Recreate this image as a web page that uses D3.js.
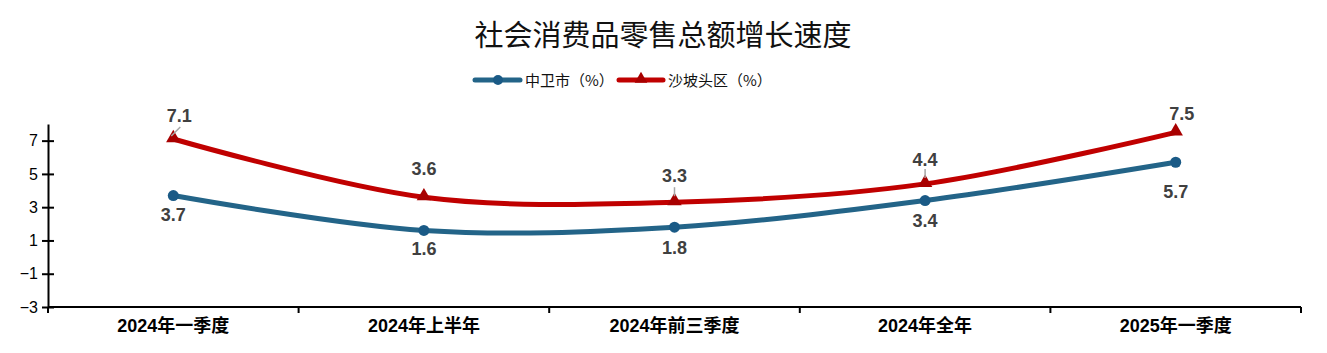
<!DOCTYPE html>
<html><head><meta charset="utf-8">
<script src="https://cdn.jsdelivr.net/npm/d3@7"></script>
<style>body{margin:0;background:#fff}svg{display:block}</style>
</head><body>
<svg id="c" width="1327" height="353"></svg>
<script>
const categories = ["2024年一季度","2024年上半年","2024年前三季度","2024年全年","2025年一季度"];
const zhongwei = [3.7, 1.6, 1.8, 3.4, 5.7];
const shapotou = [7.1, 3.6, 3.3, 4.4, 7.5];
const yTicks = [7, 5, 3, 1, -1, -3];
const seriesNames = ["中卫市（%）", "沙坡头区（%）"];
const titleText = "社会消费品零售总额增长速度";

// layout constants (label placement, px)
const redLabelDy = [-23, -29, -27, -24, -19];
const redLabelDx = [6, 0, 0, 0, 6];
const blueLabelDy = [19, 18, 20, 20, 29];

const svg = d3.select("#c");
const W = 1327, H = 353;
const m = {left: 48, right: 26, top: 124, bottom: 46};
const x = d3.scaleBand().domain(categories).range([m.left, W - m.right]);
const y = d3.scaleLinear().domain([-3, 8]).range([H - m.bottom, m.top]);
const cjk = "'Liberation Sans Narrow', 'Liberation Sans', 'Noto Sans CJK SC', sans-serif";

svg.append("text").attr("x", 663).attr("y", 46).attr("text-anchor", "middle")
  .attr("font-family", "'Noto Sans CJK SC', sans-serif").attr("font-size", 29).attr("fill", "#111")
  .text(titleText);

// y axis
const yAxis = d3.axisLeft(y).tickValues(yTicks).tickSize(0).tickFormat(d => d < 0 ? "\u2212" + Math.abs(d) : d);
const gy = svg.append("g").attr("transform", `translate(${m.left},0)`).call(yAxis);
gy.select(".domain").attr("stroke", "#000").attr("stroke-width", 2);
gy.selectAll(".tick line").remove();
gy.selectAll(".tick").append("line").attr("x1", -6).attr("x2", 6).attr("stroke", "#000").attr("stroke-width", 2);
gy.selectAll(".tick text").attr("x", -10).attr("font-family", "'Liberation Sans', sans-serif").attr("font-size", 16).attr("fill", "#000");

// x axis
const gx = svg.append("g").attr("transform", `translate(0,${H - m.bottom})`);
gx.append("line").attr("x1", m.left).attr("x2", W - m.right).attr("stroke", "#000").attr("stroke-width", 2);
const bounds = categories.map(c => x(c)).concat([W - m.right]);
gx.selectAll("line.t").data(bounds).join("line").attr("class","t")
  .attr("x1", d => d).attr("x2", d => d).attr("y1", 0).attr("y2", 6).attr("stroke", "#000").attr("stroke-width", 2);
gx.selectAll("text").data(categories).join("text")
  .attr("x", d => x(d) + x.bandwidth()/2).attr("y", 332).attr("transform", `translate(0,${-(H - m.bottom)})`)
  .attr("text-anchor", "middle")
  .attr("font-family", cjk).attr("font-size", 18).attr("font-weight", "bold").attr("fill", "#000")
  .text(d => d);

const cx = c => x(c) + x.bandwidth()/2;
const line = d3.line().x((d,i) => cx(categories[i])).y(d => y(d)).curve(d3.curveCatmullRom.alpha(0));

const blue = "#236488", blueM = "#1a5a86", red = "#C00000", redM = "#a80000";

svg.append("path").attr("d", line(zhongwei)).attr("fill", "none").attr("stroke", blue).attr("stroke-width", 5).attr("stroke-linecap", "round");
svg.append("path").attr("d", line(shapotou)).attr("fill", "none").attr("stroke", red).attr("stroke-width", 5).attr("stroke-linecap", "round");

svg.selectAll("circle.b").data(zhongwei).join("circle").attr("class","b")
  .attr("cx", (d,i) => cx(categories[i])).attr("cy", d => y(d)).attr("r", 5.5).attr("fill", blueM);
const tri = d3.symbol().type(d3.symbolTriangle).size(90);
svg.selectAll("path.r").data(shapotou).join("path").attr("class","r")
  .attr("transform", (d,i) => `translate(${cx(categories[i])},${y(d)-1})`).attr("d", tri).attr("fill", redM);

// leader lines
[0, 2, 3].forEach(i => {
  const px = cx(categories[i]), py = y(shapotou[i]);
  if (i === 0) svg.append("line").attr("x1", px-2).attr("y1", py-3).attr("x2", px+7).attr("y2", py-12).attr("stroke", "#a6a6a6").attr("stroke-width", 1.5);
  else svg.append("line").attr("x1", px).attr("y1", py-6).attr("x2", px).attr("y2", py-15).attr("stroke", "#a6a6a6").attr("stroke-width", 1.5);
});

const lblFont = "'Liberation Sans', sans-serif";
svg.selectAll("text.rl").data(shapotou).join("text").attr("class","rl")
  .attr("x", (d,i) => cx(categories[i]) + redLabelDx[i]).attr("y", (d,i) => y(d) + redLabelDy[i] + 6.5)
  .attr("text-anchor", "middle").attr("font-family", lblFont).attr("font-weight", "bold").attr("font-size", 18).attr("fill", "#404040")
  .text(d => d.toFixed(1));
svg.selectAll("text.bl").data(zhongwei).join("text").attr("class","bl")
  .attr("x", (d,i) => cx(categories[i])).attr("y", (d,i) => y(d) + blueLabelDy[i] + 6.5)
  .attr("text-anchor", "middle").attr("font-family", lblFont).attr("font-weight", "bold").attr("font-size", 18).attr("fill", "#404040")
  .text(d => d.toFixed(1));

// legend
const lg = svg.append("g").attr("font-family", "'Noto Sans CJK SC', sans-serif").attr("font-size", 15).attr("fill", "#111");
lg.append("line").attr("x1", 475).attr("x2", 520).attr("y1", 80).attr("y2", 80).attr("stroke", blue).attr("stroke-width", 5).attr("stroke-linecap","round");
lg.append("circle").attr("cx", 498).attr("cy", 80).attr("r", 5).attr("fill", blueM);
lg.append("text").attr("x", 525).attr("y", 85.5).text(seriesNames[0]);
lg.append("line").attr("x1", 619).attr("x2", 663).attr("y1", 80).attr("y2", 80).attr("stroke", red).attr("stroke-width", 5).attr("stroke-linecap","round");
lg.append("path").attr("transform", "translate(641,79)").attr("d", d3.symbol().type(d3.symbolTriangle).size(70)).attr("fill", redM);
lg.append("text").attr("x", 668).attr("y", 85.5).text(seriesNames[1]);
</script>
</body></html>
